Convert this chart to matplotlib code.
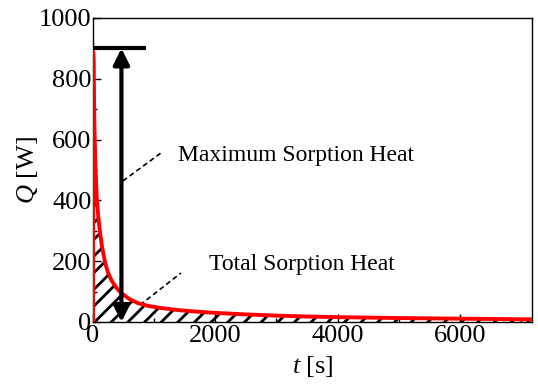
import matplotlib
matplotlib.use("Agg")
import matplotlib.pyplot as plt
from matplotlib.ticker import MultipleLocator

plt.rcParams['font.family'] = ['Liberation Serif', 'DejaVu Serif']
plt.rcParams['mathtext.fontset'] = 'custom'
plt.rcParams['mathtext.rm'] = 'Liberation Serif'
plt.rcParams['mathtext.it'] = 'Liberation Serif:italic'
plt.rcParams['hatch.linewidth'] = 2.0

# Data
time_s = [0, 3, 10, 15, 25, 38, 60, 85, 110, 147, 200, 250, 300, 380, 463, 600, 735, 900,
          1110, 1400, 1700, 2000, 2500, 3000, 3500, 4000, 5000, 6000, 7000, 7200]
heat_W = [0, 889, 860, 741, 632, 523, 412, 350, 303, 248, 193, 160, 138, 113, 95, 75, 62, 53,
          46, 39, 34, 30, 25, 21, 18, 16, 13, 11, 9, 9]

max_heat = 900
max_bar_end = 870
arrow_t = 465

fig = plt.figure(figsize=(5.38, 3.87), dpi=100)
ax = fig.add_axes([93/538, 1-322/387, (532-93)/538, (322-18)/387])

ax.fill_between(time_s, 0, heat_W, facecolor='none', edgecolor='black', hatch='//', linewidth=0)
ax.plot(time_s, heat_W, color='red', lw=2.8, zorder=3)

ax.plot([0, max_bar_end], [max_heat, max_heat], color='black', lw=3, zorder=4, solid_capstyle='butt')
ax.annotate('', xy=(arrow_t, 0), xytext=(arrow_t, max_heat),
            arrowprops=dict(arrowstyle='<|-|>', color='black', lw=3, mutation_scale=24,
                            shrinkA=0, shrinkB=0), zorder=5)

ax.plot([490, 1111], [464, 556], color='black', lw=1.2, ls=(0, (3, 2)))
ax.plot([768, 1438], [56, 161], color='black', lw=1.2, ls=(0, (3, 2)))
ax.text(1390, 548, 'Maximum Sorption Heat', fontsize=17, va='center', ha='left')
ax.text(1890, 188, 'Total Sorption Heat', fontsize=17, va='center', ha='left')

ax.set_xlim(0, 7180)
ax.set_ylim(0, 1000)
ax.xaxis.set_major_locator(MultipleLocator(2000))
ax.xaxis.set_minor_locator(MultipleLocator(1000))
ax.yaxis.set_major_locator(MultipleLocator(200))
ax.yaxis.set_minor_locator(MultipleLocator(100))
ax.tick_params(which='both', direction='in', labelsize=19, width=1, top=False, right=False)
ax.tick_params(which='major', length=6)
ax.tick_params(which='minor', length=3)
ax.tick_params(axis='x', pad=2)
ax.tick_params(axis='y', pad=1)
for s in ax.spines.values():
    s.set_linewidth(1)

ax.set_xlabel('$t$ [s]', fontsize=19, labelpad=5)
ax.set_ylabel('$Q$ [W]', fontsize=19, labelpad=-1)

fig.savefig('out.png', dpi=100)
